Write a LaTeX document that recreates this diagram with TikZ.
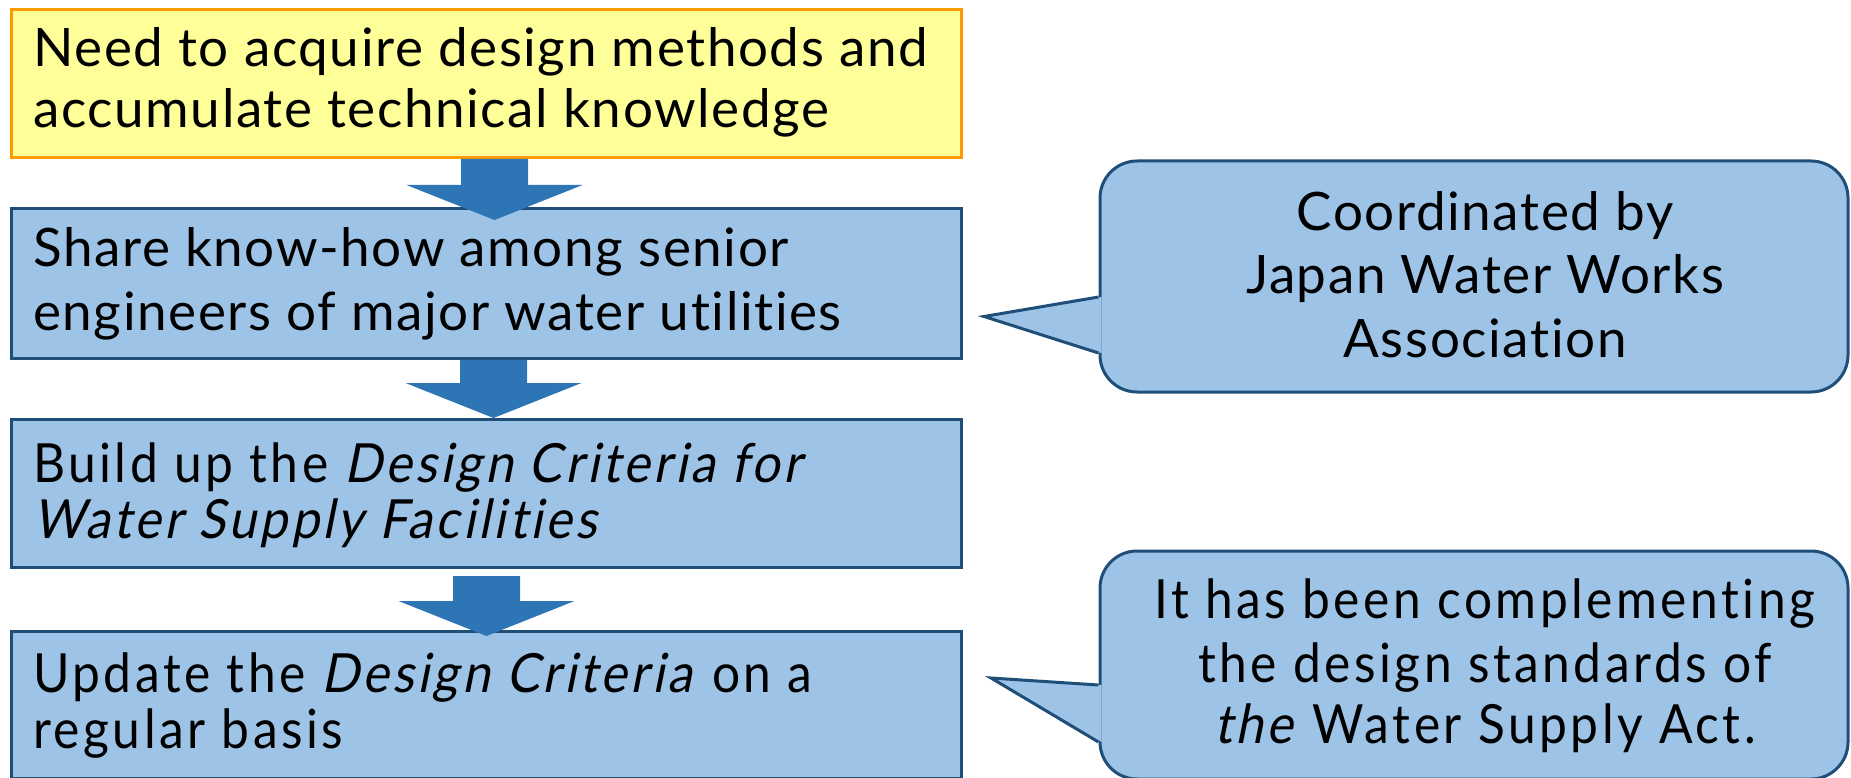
\documentclass[tikz,border=0pt]{standalone}
\usepackage{fontspec}
\setmainfont{Lato}[LetterSpace=3, Ligatures=NoCommon,
  ItalicFont=Lato, ItalicFeatures={FakeSlant=0.2}]
\newfontfamily\condfont{Lato}[FakeStretch=0.92, LetterSpace=6.5, Ligatures=NoCommon,
  ItalicFont=Lato, ItalicFeatures={FakeSlant=0.2}]
\usetikzlibrary{calc}

\definecolor{noteyellow}{HTML}{FFFF99}
\definecolor{noteorange}{HTML}{FF9900}
\definecolor{stepfill}{HTML}{9DC3E6}
\definecolor{stepline}{HTML}{1F4E79}
\definecolor{flowblue}{HTML}{2E75B6}

\tikzset{
  stepbox/.style={draw=stepline, fill=stepfill, line width=3pt, inner sep=0pt,
    anchor=north west, minimum width=950pt},
  notebox/.style={stepbox, draw=noteorange, fill=noteyellow},
  bubble/.style={draw=stepline, fill=stepfill, line width=3pt, inner sep=0pt,
    rounded corners=37pt, minimum width=748pt},
  widetext/.style={inner sep=0pt, font=\fontsize{53}{60}\selectfont},
  narrowtext/.style={inner sep=0pt, font=\condfont\fontsize{54}{60}\selectfont},
  leftline/.style={anchor=base west},
  midline/.style={anchor=base},
  flowfill/.style={fill=flowblue},
}

% block arrow from the bottom of one box down to the next
% #1 from, #2 to, #3 x offset, #4 gap below #1, #5 overlap into #2
\newcommand{\flowarrow}[5]{%
  \path (#1.south) ++(#3,#4) coordinate (fa-top);
  \path (#2.north) ++(#3,#5) coordinate (fa-tip);
  \fill[flowfill] let \p1=(fa-top), \p2=(fa-tip) in
    (\x1-33.5pt,\y1) -- (\x1+33.5pt,\y1) -- (\x1+33.5pt,\y2+35pt)
    -- (\x1+88pt,\y2+35pt) -- (fa-tip) -- (\x1-88pt,\y2+35pt)
    -- (\x1-33.5pt,\y2+35pt) -- cycle;
}

\begin{document}
\begin{tikzpicture}[x=1pt,y=-1pt]
\useasboundingbox (0,0) rectangle (1851,778);

% the four steps
\node[notebox, minimum height=148pt] (b1) at (10,8) {};
\node[stepbox, minimum height=150pt] (b2) at (10,207) {};
\node[stepbox, minimum height=148pt] (b3) at (10,418) {};
\node[stepbox, minimum height=147pt] (b4) at (10,630) {};

% arrows between the steps
\flowarrow{b1}{b2}{8}{0}{13}
\flowarrow{b2}{b3}{7}{0}{0}
\flowarrow{b3}{b4}{0}{7}{6}

% step texts
\node[widetext, leftline] (b1a) at (33,67) {Need to acquire design methods and};
\node[widetext, leftline] (b1b) at (33,128) {accumulate technical knowledge};
\node[widetext, leftline] (b2a) at (33,266) {Share know-how among senior};
\node[widetext, leftline] (b2b) at (33,330) {engineers of major water utilities};
\node[narrowtext, leftline] (b3a) at (33,482) {Build up the \textit{Design Criteria for}};
\node[narrowtext, leftline] (b3b) at (33,538) {\textit{Water Supply Facilities}};
\node[narrowtext, leftline] (b4a) at (33,692) {Update the \textit{Design Criteria} on a};
\node[narrowtext, leftline] (b4b) at (33,748) {regular basis};

% speech bubbles
\node[bubble, minimum height=231pt] (c1) at (1474,276.5) {};
\node[bubble, minimum height=228pt] (c2) at (1474,665) {};

\coordinate (t1) at ($(b2.east)+(21,33)$);
\coordinate (t2) at ($(b4.east)+(28,-27)$);
\path (c1.west) ++(0,20.5) coordinate (c1u) ++(0,56) coordinate (c1d);
\path (c2.west) ++(0,20) coordinate (c2u) ++(0,57) coordinate (c2d);

\fill[stepfill] ($(c1u)+(3,0)$) -- (t1) -- ($(c1d)+(3,0)$) -- cycle;
\draw[stepline, line width=3pt, line join=miter] (c1u) -- (t1) -- (c1d);
\fill[stepfill] ($(c2u)+(3,0)$) -- (t2) -- ($(c2d)+(3,0)$) -- cycle;
\draw[stepline, line width=3pt, line join=miter] (c2u) -- (t2) -- (c2d);

% bubble texts
\node[widetext, midline] (c1a) at (1485,230) {Coordinated by};
\node[widetext, midline] (c1b) at (1485,293) {Japan Water Works};
\node[widetext, midline] (c1c) at (1485,357) {Association};
\node[narrowtext, midline] (c2a) at (1485,618) {It has been complementing};
\node[narrowtext, midline] (c2b) at (1485,682) {the design standards of};
\node[narrowtext, midline] (c2c) at (1485,743) {\textit{the} Water Supply Act.};
\end{tikzpicture}
\end{document}
